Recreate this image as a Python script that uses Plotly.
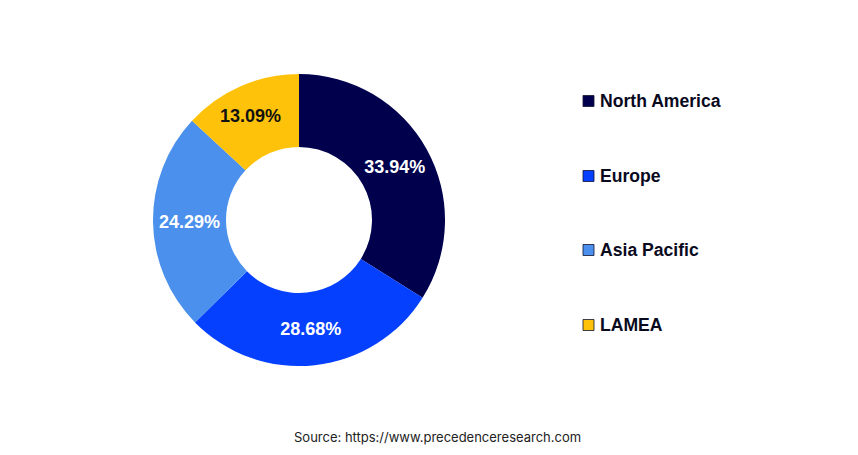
import plotly.graph_objects as go

regions = ["North America", "Europe", "Asia Pacific", "LAMEA"]
shares = [33.94, 28.68, 24.29, 13.09]
share_labels = ["33.94%", "28.68%", "24.29%", ""]
lamea_label = "13.09%"
colors = ["#00004d", "#0540ff", "#4a90ec", "#ffc20a"]

W = 858
H = 455
# the page has an 8px body margin, so pixel positions are shifted back by this
PAD = 8


def px(x):
    return (x - PAD) / W


def py(y):
    return 1 - (y - PAD) / H


fig = go.Figure()
fig.add_trace(go.Pie(
    labels=regions,
    values=shares,
    text=share_labels,
    textinfo="text",
    textposition="inside",
    insidetextorientation="horizontal",
    insidetextfont=dict(family="Liberation Sans", size=18, color="white", weight="bold"),
    hole=0.5,
    sort=False,
    direction="clockwise",
    rotation=0,
    marker=dict(colors=colors, line=dict(width=0)),
    domain=dict(x=[px(153), px(445)], y=[py(367), py(73)]),
    showlegend=False,
))

# plotly centres this label lower in the wedge than the reference does
fig.add_annotation(text="<b>" + lamea_label + "</b>", xref="paper", yref="paper",
                   x=px(250), y=py(116), xanchor="center", yanchor="middle",
                   showarrow=False, font=dict(family="Liberation Sans", size=18, color="#111111"))

# legend is placed by hand, the spacing is wider than plotly's own
legend_y = [101, 176, 250, 325]
for name, color, y in zip(regions, colors, legend_y):
    fig.add_shape(type="rect", xref="paper", yref="paper",
                  x0=px(583), x1=px(594), y0=py(y + 5.5), y1=py(y - 5.5),
                  fillcolor=color, line=dict(width=0.8, color="#111133"))
    fig.add_annotation(text="<b>" + name + "</b>", xref="paper", yref="paper",
                       x=px(597.5), y=py(y), xanchor="left", yanchor="middle",
                       showarrow=False, font=dict(family="Liberation Sans", size=17.6, color="#0a0a1e"))

fig.add_annotation(text="Source: https://www.precedenceresearch.com", xref="paper", yref="paper",
                   x=px(437), y=py(437), xanchor="center", yanchor="middle",
                   showarrow=False, font=dict(family="Inter", size=13, color="#222222"))

fig.update_layout(width=W, height=H, margin=dict(l=0, r=0, t=0, b=0),
                  paper_bgcolor="white", plot_bgcolor="white")
fig.write_html("out.html")
